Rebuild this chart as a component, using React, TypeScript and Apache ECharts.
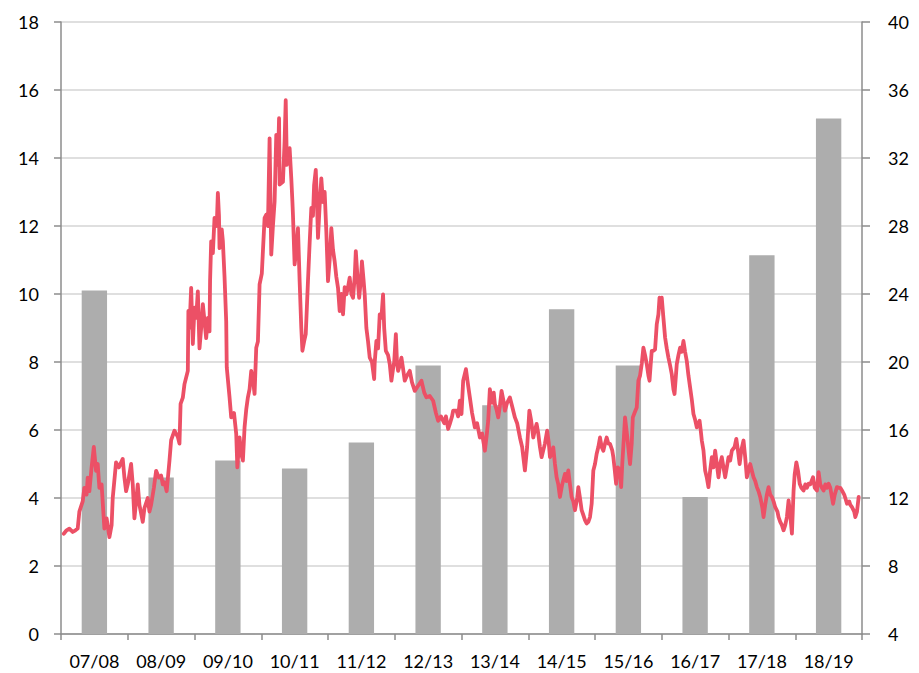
import React, { useEffect, useRef } from "react";
import * as echarts from "echarts";

// Fiscal-year categories (bars)
const categories = ["07/08", "08/09", "09/10", "10/11", "11/12", "12/13", "13/14", "14/15", "15/16", "16/17", "17/18", "18/19"];
const barValues = [10.1, 4.6, 5.1, 4.87, 5.63, 7.9, 6.73, 9.55, 7.9, 4.03, 11.14, 15.16];

// Axis ticks
const leftMin = 0, leftMax = 18, leftStep = 2;
const rightMin = 4, rightMax = 40, rightStep = 4;

// Line: [month index since start of FY07/08, value]
const lineMonths = [
  0.5, 1.0, 1.5, 2.1, 2.6, 3.0, 3.3, 3.9, 4.2, 4.6, 4.8, 5.1, 5.5, 5.9, 6.3, 6.6, 6.9, 7.3, 7.8, 8.2,
  8.7, 9.1, 9.3, 9.9, 10.4, 11.1, 11.4, 11.7, 12.0, 12.6, 12.9, 13.2, 13.8, 14.1, 14.7, 15.0, 15.6, 15.9, 16.2, 16.7,
  17.1, 17.6, 18.0, 18.3, 18.6, 19.0, 19.5, 19.8, 20.4, 21.0, 21.3, 21.5, 21.9, 22.2, 22.8, 22.9, 23.1, 23.4, 23.7, 24.0,
  24.3, 24.6, 24.9, 25.2, 25.5, 25.8, 26.1, 26.4, 26.7, 26.8, 27.0, 27.3, 27.6, 28.0, 28.2, 28.4, 28.5, 28.9, 29.1, 29.4,
  29.7, 29.8, 30.3, 30.6, 31.1, 31.5, 31.7, 32.1, 32.4, 32.7, 33.0, 33.3, 33.6, 33.9, 34.2, 34.5, 34.8, 35.1, 35.4, 35.7,
  36.1, 36.3, 36.6, 36.9, 37.2, 37.5, 37.8, 38.1, 38.4, 38.7, 39.0, 39.2, 39.3, 39.9, 40.2, 40.4, 40.6, 41.1, 41.4, 41.6,
  41.7, 42.0, 42.3, 42.6, 42.9, 43.2, 43.4, 43.7, 44.0, 44.2, 44.4, 44.7, 45.0, 45.3, 45.5, 45.8, 46.0, 46.2, 46.5, 46.8,
  47.1, 47.4, 47.7, 48.0, 48.3, 48.6, 48.9, 49.2, 49.5, 49.8, 50.1, 50.4, 50.7, 51.0, 51.3, 51.6, 51.9, 52.2, 52.5, 52.8,
  53.0, 53.3, 53.6, 53.9, 54.1, 54.4, 54.6, 54.9, 55.2, 55.5, 55.9, 56.3, 56.4, 56.7, 57.0, 57.3, 57.6, 57.9, 58.1, 58.4,
  58.8, 59.1, 59.4, 59.7, 59.9, 60.2, 60.4, 60.6, 60.9, 61.2, 61.5, 61.8, 62.2, 62.7, 63.1, 63.6, 64.2, 64.8, 65.3, 65.7,
  66.3, 66.9, 67.4, 67.8, 68.3, 68.9, 69.2, 69.6, 69.9, 70.3, 70.5, 71.1, 71.4, 71.7, 72.0, 72.3, 72.8, 73.2, 73.5, 73.9,
  74.4, 74.8, 75.3, 75.7, 76.2, 76.5, 76.8, 77.1, 77.5, 77.8, 78.0, 78.3, 78.6, 78.9, 79.2, 79.5, 79.8, 80.2, 80.7, 81.1,
  81.6, 82.0, 82.5, 82.9, 83.4, 83.8, 84.2, 84.5, 84.9, 85.2, 85.5, 85.8, 86.1, 86.4, 86.7, 87.0, 87.4, 87.7, 87.9, 88.2,
  88.5, 88.8, 89.1, 89.4, 89.7, 90.1, 90.6, 90.9, 91.2, 91.5, 91.8, 92.1, 92.4, 92.8, 93.0, 93.3, 93.6, 93.9, 94.2, 94.5,
  94.8, 95.1, 95.4, 95.7, 96.0, 96.3, 96.6, 96.9, 97.2, 97.5, 97.8, 98.1, 98.4, 98.7, 99.1, 99.3, 99.5, 99.8, 100.1, 100.5,
  100.7, 100.9, 101.2, 101.4, 101.8, 102.1, 102.3, 102.6, 102.8, 103.1, 103.5, 103.8, 104.1, 104.4, 104.7, 105.0, 105.3, 105.6, 105.8, 106.0,
  106.2, 106.5, 106.8, 107.1, 107.4, 107.6, 107.8, 108.0, 108.3, 108.6, 108.9, 109.2, 109.5, 109.8, 110.1, 110.3, 110.5, 110.7, 111.0, 111.3,
  111.6, 111.9, 112.2, 112.5, 112.8, 113.1, 113.4, 113.7, 114.0, 114.3, 114.8, 115.0, 115.2, 115.5, 115.8, 116.1, 116.4, 116.7, 117.0, 117.3,
  117.6, 117.9, 118.2, 118.5, 118.8, 119.1, 119.4, 119.8, 120.0, 120.3, 120.6, 121.1, 121.4, 121.7, 122.0, 122.3, 122.7, 123.0, 123.3, 123.6,
  123.9, 124.2, 124.5, 124.8, 125.1, 125.4, 125.7, 126.1, 126.3, 126.6, 126.9, 127.2, 127.5, 127.8, 128.1, 128.4, 128.8, 129.0, 129.3, 129.6,
  129.9, 130.2, 130.5, 130.8, 131.1, 131.4, 131.7, 131.9, 132.2, 132.5, 132.8, 133.1, 133.5, 133.8, 134.1, 134.4, 134.7, 135.2, 135.5, 135.9,
  136.2, 136.5, 136.8, 137.1, 137.4, 137.7, 138.0, 138.3, 138.8, 139.1, 139.5, 139.8, 140.1, 140.4, 140.8, 141.0, 141.3, 141.7, 141.9, 142.2,
  142.6, 142.8, 143.1, 143.4,
];
const lineValues = [
  2.95, 3.05, 3.1, 3.0, 3.05, 3.1, 3.6, 3.9, 4.3, 4.1, 4.6, 4.2, 4.9, 5.5, 4.8, 5.0, 4.3, 4.4, 3.1, 3.4,
  2.85, 3.2, 4.0, 5.05, 4.9, 5.15, 4.6, 4.2, 4.4, 5.0, 4.4, 3.4, 4.4, 3.8, 3.3, 3.7, 4.0, 3.6, 3.8, 4.3,
  4.8, 4.6, 4.66, 4.4, 4.46, 4.2, 5.1, 5.7, 5.98, 5.8, 5.6, 6.77, 6.95, 7.35, 7.74, 9.5, 9.0, 10.18, 8.53, 9.6,
  9.3, 10.08, 8.4, 9.0, 9.7, 9.2, 8.7, 9.3, 8.9, 10.38, 11.55, 11.2, 12.24, 12.0, 12.97, 12.3, 11.35, 11.9, 11.55, 10.5,
  9.2, 7.84, 6.96, 6.37, 6.5, 5.89, 4.9, 5.78, 5.3, 5.1, 6.08, 6.6, 6.96, 7.2, 7.74, 7.5, 7.06, 8.42, 8.6, 10.28,
  10.6, 11.26, 12.24, 12.33, 12.0, 14.58, 11.16, 12.0, 12.72, 14.68, 13.8, 15.17, 13.22, 13.3, 14.5, 15.7, 13.8, 14.29, 13.4, 12.72,
  12.33, 10.87, 11.3, 11.94, 10.38, 9.0, 8.33, 8.6, 8.82, 9.6, 10.38, 11.5, 12.53, 12.3, 13.2, 13.65, 12.8, 11.65, 12.6, 13.4,
  12.7, 13.0, 11.84, 10.38, 11.0, 11.94, 11.3, 10.96, 10.5, 10.18, 9.5, 10.0, 9.4, 10.2, 9.99, 10.2, 10.48, 10.0, 9.89, 10.5,
  11.26, 10.5, 9.89, 10.4, 10.96, 10.4, 9.99, 9.0, 8.6, 8.13, 8.0, 7.5, 8.0, 8.62, 8.4, 9.4, 9.3, 9.99, 9.0, 8.33,
  8.2, 7.94, 7.45, 7.8, 8.0, 8.82, 8.0, 7.74, 7.9, 8.13, 7.8, 7.45, 7.6, 7.74, 7.4, 7.15, 7.3, 7.45, 7.1, 6.96,
  7.0, 6.86, 6.5, 6.27, 6.4, 6.2, 6.4, 6.03, 6.18, 6.4, 6.57, 6.57, 6.4, 6.86, 6.47, 7.45, 7.79, 7.3, 6.96, 6.5,
  6.08, 6.2, 5.78, 5.9, 5.39, 5.8, 6.27, 7.2, 6.8, 7.1, 6.76, 6.6, 6.37, 6.7, 7.15, 6.9, 6.57, 6.8, 6.96, 6.7,
  6.37, 6.2, 5.78, 5.5, 4.81, 5.5, 6.57, 6.3, 5.78, 6.0, 6.18, 5.9, 5.5, 5.2, 5.4, 5.6, 5.98, 5.6, 5.2, 5.3,
  5.49, 5.0, 4.61, 4.4, 4.03, 4.4, 4.71, 4.5, 4.81, 4.4, 4.03, 3.9, 3.64, 4.0, 4.32, 4.0, 3.64, 3.5, 3.35, 3.25,
  3.3, 3.44, 3.83, 4.81, 5.0, 5.3, 5.5, 5.78, 5.5, 5.39, 5.6, 5.78, 5.6, 5.59, 5.4, 5.2, 4.9, 4.42, 4.9, 4.81,
  4.32, 5.0, 5.8, 6.37, 5.8, 5.3, 5.0, 5.6, 6.37, 6.5, 6.66, 7.45, 7.6, 7.94, 8.42, 8.2, 7.94, 7.6, 7.45, 7.9,
  8.33, 8.33, 8.37, 9.11, 9.4, 9.89, 9.7, 9.89, 9.3, 8.72, 8.4, 8.13, 7.9, 7.64, 7.2, 7.06, 7.5, 7.94, 8.2, 8.42,
  8.3, 8.62, 8.3, 8.03, 7.6, 7.25, 6.9, 6.47, 6.3, 6.08, 6.27, 6.0, 5.69, 5.4, 4.81, 4.6, 4.32, 4.8, 5.2, 4.9,
  5.39, 5.0, 4.61, 5.0, 5.2, 4.9, 4.61, 5.0, 5.2, 5.1, 5.39, 5.5, 5.74, 5.4, 5.0, 5.4, 5.69, 5.2, 4.61, 4.8,
  5.0, 4.8, 4.61, 4.5, 4.32, 4.2, 4.03, 3.7, 3.44, 3.8, 4.1, 4.32, 4.1, 4.03, 3.9, 3.73, 3.6, 3.44, 3.3, 3.2,
  3.05, 3.2, 3.44, 3.93, 3.5, 2.95, 4.22, 4.7, 5.05, 4.8, 4.42, 4.3, 4.22, 4.4, 4.3, 4.42, 4.4, 4.61, 4.3, 4.22,
  4.76, 4.4, 4.3, 4.22, 4.4, 4.3, 4.42, 4.3, 3.83, 4.1, 4.32, 4.3, 4.3, 4.22, 4.1, 4.0, 3.83, 3.9, 3.8, 3.73,
  3.6, 3.44, 3.6, 4.03,
];
const totalMonths = 144;

const FONT = "Lato, 'Liberation Sans', sans-serif";

export default function App() {
  const ref = useRef<HTMLDivElement>(null);
  useEffect(() => {
    if (!ref.current) return;
    const chart = echarts.init(ref.current, undefined, { renderer: "svg" });
    const n = Math.min(lineMonths.length, lineValues.length);
    const lineData: [number, number][] = [];
    for (let i = 0; i < n; i++) lineData.push([lineMonths[i], lineValues[i]]);
    const labelStyle = { color: "#000", fontSize: 18, fontFamily: FONT };
    chart.setOption({
      animation: false,
      backgroundColor: "#fff",
      grid: { left: 61, right: 57, top: 22, bottom: 39, containLabel: false },
      xAxis: [
        {
          type: "category",
          data: categories,
          boundaryGap: true,
          axisLine: { show: true, lineStyle: { color: "#8C8C8C", width: 1.5 } },
          axisTick: { show: true, length: 6, lineStyle: { color: "#8C8C8C", width: 1.5 } },
          axisLabel: { ...labelStyle, margin: 18 },
          splitLine: { show: false },
        },
        {
          type: "value",
          min: 0,
          max: totalMonths,
          show: false,
          splitLine: { show: false },
        },
      ],
      yAxis: [
        {
          type: "value",
          min: leftMin,
          max: leftMax,
          interval: leftStep,
          position: "left",
          axisLine: { show: true, lineStyle: { color: "#8C8C8C", width: 1.5 } },
          axisTick: { show: true, length: 7, inside: false, lineStyle: { color: "#8C8C8C", width: 1.5 } },
          axisLabel: { ...labelStyle, margin: 22 },
          splitLine: { show: true, lineStyle: { color: "#D4D4D4", width: 1.5 } },
        },
        {
          type: "value",
          min: rightMin,
          max: rightMax,
          interval: rightStep,
          position: "right",
          axisLine: { show: true, lineStyle: { color: "#8C8C8C", width: 1.5 } },
          axisTick: { show: true, length: 8, inside: false, lineStyle: { color: "#8C8C8C", width: 1.5 } },
          axisLabel: { ...labelStyle, margin: 26 },
          splitLine: { show: false },
        },
      ],
      series: [
        {
          type: "bar",
          xAxisIndex: 0,
          yAxisIndex: 0,
          data: barValues,
          barWidth: "38%",
          itemStyle: { color: "#ADADAD" },
          z: 2,
        },
        {
          type: "line",
          xAxisIndex: 1,
          yAxisIndex: 0,
          data: lineData,
          showSymbol: false,
          symbol: "none",
          lineStyle: { color: "#EC5066", width: 3.8, join: "round", cap: "round" },
          z: 3,
        },
      ],
    });
    return () => chart.dispose();
  }, []);
  return (
    <div
      ref={ref}
      style={{ position: "fixed", left: 0, top: 0, width: 919, height: 673, background: "#fff" }}
    />
  );
}
